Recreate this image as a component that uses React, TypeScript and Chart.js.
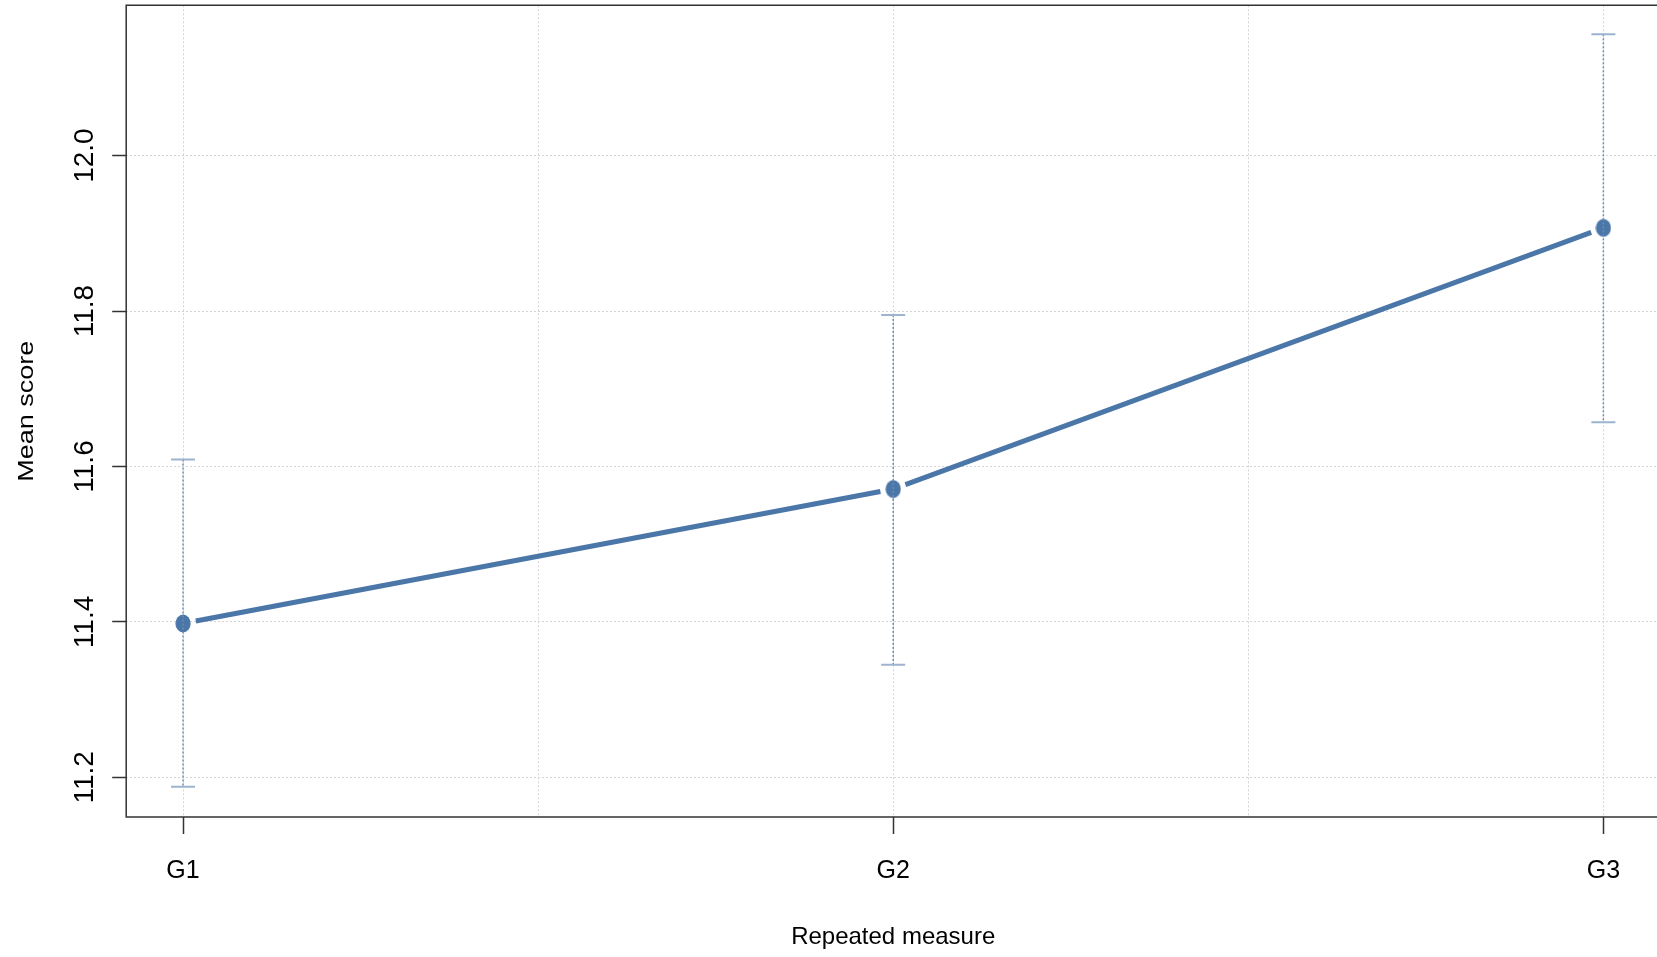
import React, { useEffect, useRef } from 'react';
import { Chart, registerables } from 'chart.js';

Chart.register(...registerables);

// ---- data ----
const categories = ['G1', 'G2', 'G3'];
const xPositions = [1, 2, 3];
const means = [11.398, 11.571, 11.907];
const lower = [11.188, 11.345, 11.657];
const upper = [11.609, 11.795, 12.156];
const xTitle = 'Repeated measure';
const yTitle = 'Mean score';

const LINE_COLOR = '#4A76A8';
const ERR_COLOR = '#6A8CB6';
const CAP_COLOR = '#9DB4CF';
const GRID_COLOR = '#D4D4D4';
const FRAME_COLOR = '#333333';
const FONT = '"Liberation Sans", Arial, sans-serif';

function makeEllipse(): HTMLCanvasElement {
  const c = document.createElement('canvas');
  c.width = 16;
  c.height = 19;
  const g = c.getContext('2d')!;
  g.fillStyle = LINE_COLOR;
  g.beginPath();
  g.ellipse(8, 9.5, 7.6, 9, 0, 0, Math.PI * 2);
  g.fill();
  return c;
}

const rPlot = {
  id: 'rPlot',
  beforeDatasetsDraw(chart: any) {
    const { ctx } = chart;
    const pts = chart.getDatasetMeta(0).data;
    ctx.save();
    ctx.strokeStyle = LINE_COLOR;
    ctx.lineWidth = 5;
    ctx.lineCap = 'butt';
    const gap = 13;
    for (let i = 0; i < pts.length - 1; i++) {
      const a = pts[i];
      const b = pts[i + 1];
      const dx = b.x - a.x;
      const dy = b.y - a.y;
      const len = Math.hypot(dx, dy);
      const ux = dx / len;
      const uy = dy / len;
      ctx.beginPath();
      ctx.moveTo(a.x + ux * gap, a.y + uy * gap);
      ctx.lineTo(b.x - ux * gap, b.y - uy * gap);
      ctx.stroke();
    }
    ctx.restore();
  },
  afterDatasetsDraw(chart: any) {
    const { ctx } = chart;
    const xs = chart.scales.x;
    const ys = chart.scales.y;
    ctx.save();
    for (let i = 0; i < xPositions.length; i++) {
      const px = xs.getPixelForValue(xPositions[i]);
      const yl = ys.getPixelForValue(lower[i]);
      const yu = ys.getPixelForValue(upper[i]);
      ctx.strokeStyle = ERR_COLOR;
      ctx.lineWidth = 1.5;
      ctx.setLineDash([2, 2]);
      ctx.beginPath();
      ctx.moveTo(px, yu);
      ctx.lineTo(px, yl);
      ctx.stroke();
      ctx.setLineDash([]);
      ctx.strokeStyle = CAP_COLOR;
      ctx.lineWidth = 2;
      ctx.beginPath();
      ctx.moveTo(px - 12, yu);
      ctx.lineTo(px + 12, yu);
      ctx.moveTo(px - 12, yl);
      ctx.lineTo(px + 12, yl);
      ctx.stroke();
    }
    ctx.restore();
  },
  afterDraw(chart: any) {
    const { ctx, chartArea } = chart;
    const { left, top, right, bottom } = chartArea;
    const xs = chart.scales.x;
    const ys = chart.scales.y;
    ctx.save();
    // frame (right side lies beyond the canvas)
    ctx.strokeStyle = FRAME_COLOR;
    ctx.lineWidth = 1.5;
    ctx.beginPath();
    ctx.moveTo(right + 10, top);
    ctx.lineTo(left, top);
    ctx.lineTo(left, bottom);
    ctx.lineTo(right + 10, bottom);
    ctx.stroke();

    ctx.fillStyle = '#000';
    // x tick labels
    ctx.font = `25px ${FONT}`;
    ctx.textAlign = 'center';
    ctx.textBaseline = 'alphabetic';
    for (let i = 0; i < categories.length; i++) {
      ctx.fillText(categories[i], xs.getPixelForValue(xPositions[i]), bottom + 61);
    }
    // y tick labels (rotated)
    ctx.font = `28px ${FONT}`;
    for (const t of ys.ticks) {
      const py = ys.getPixelForValue(t.value);
      ctx.save();
      ctx.translate(left - 33, py);
      ctx.rotate(-Math.PI / 2);
      ctx.fillText(Number(t.value).toFixed(1), 0, 0);
      ctx.restore();
    }
    // axis titles
    ctx.font = `24px ${FONT}`;
    ctx.fillText(xTitle, xs.getPixelForValue(2), bottom + 127);
    ctx.save();
    ctx.translate(33, (top + bottom) / 2);
    ctx.rotate(-Math.PI / 2);
    ctx.scale(1.2, 1);
    ctx.font = `22.5px ${FONT}`;
    ctx.fillText(yTitle, 0, 0);
    ctx.restore();
    ctx.restore();
  },
};

export default function App() {
  const ref = useRef<HTMLCanvasElement>(null);
  useEffect(() => {
    document.body.style.margin = '0';
    const ellipse = makeEllipse();
    const chart = new Chart(ref.current!, {
      type: 'line',
      data: {
        datasets: [
          {
            data: xPositions.map((x, i) => ({ x, y: means[i] })),
            showLine: false,
            pointStyle: ellipse as any,
            pointRadius: 8,
            backgroundColor: LINE_COLOR,
            borderColor: LINE_COLOR,
          },
        ],
      },
      options: {
        animation: false,
        responsive: true,
        maintainAspectRatio: false,
        events: [],
        layout: { autoPadding: false, padding: { top: 5.3, left: 0, right: 0, bottom: 0 } },
        plugins: { legend: { display: false }, tooltip: { enabled: false } },
        scales: {
          x: {
            type: 'linear',
            min: 0.92,
            max: 3.0755,
            ticks: { stepSize: 0.5, includeBounds: false, display: false },
            grid: {
              color: GRID_COLOR,
              lineWidth: 1,
              tickLength: 17,
              tickWidth: 1.5,
              tickColor: (c: any) =>
                Math.abs(c.tick.value - Math.round(c.tick.value)) < 1e-6 ? FRAME_COLOR : 'rgba(0,0,0,0)',
            },
            border: { display: false, dash: [2, 2] },
            afterFit: (s: any) => {
              s.height = 140;
            },
          },
          y: {
            type: 'linear',
            min: 11.149,
            max: 12.1934,
            ticks: { stepSize: 0.2, includeBounds: false, display: false },
            grid: {
              color: GRID_COLOR,
              lineWidth: 1,
              tickLength: 14,
              tickWidth: 1.5,
              tickColor: FRAME_COLOR,
            },
            border: { display: false, dash: [2, 2] },
            afterFit: (s: any) => {
              s.width = 126.2;
            },
          },
        },
      },
      plugins: [rPlot],
    });
    return () => chart.destroy();
  }, []);
  return (
    <div style={{ position: 'fixed', left: 0, top: 0, width: 1657, height: 957, background: '#fff' }}>
      <canvas ref={ref} />
    </div>
  );
}
